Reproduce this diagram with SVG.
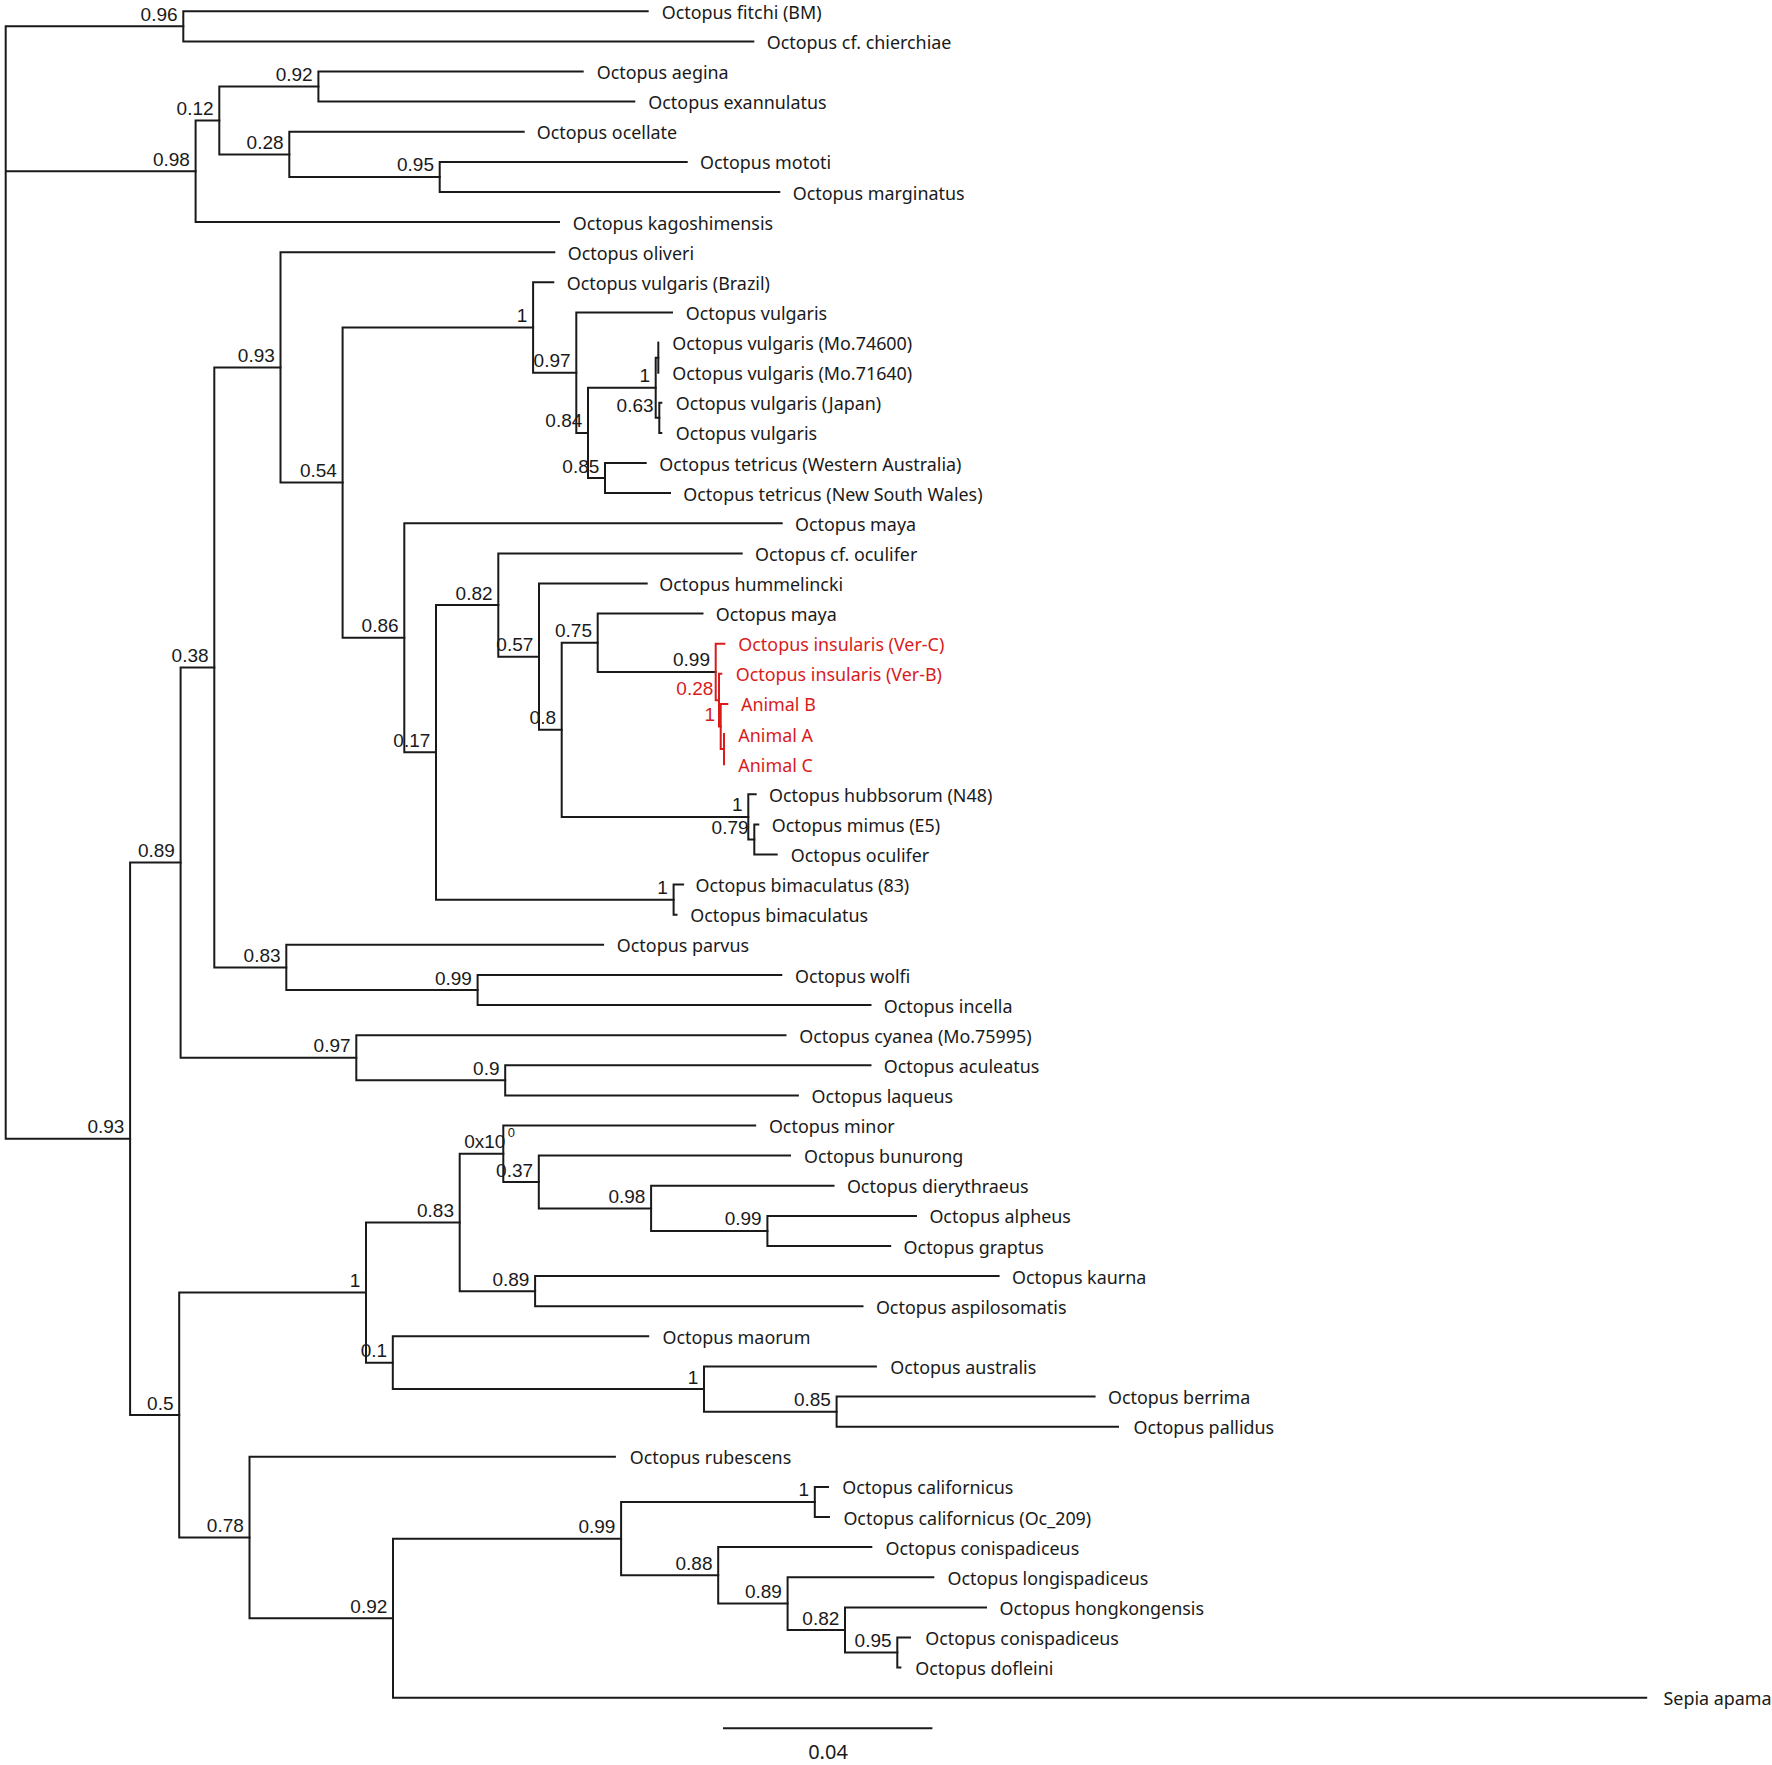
<svg xmlns="http://www.w3.org/2000/svg" width="1772" height="1765" viewBox="0 0 1772 1765">
<style>
.br{fill:none;stroke:#1a1a1a;stroke-width:2;stroke-linejoin:miter;stroke-linecap:square}
.rb{fill:none;stroke:#d81c1c;stroke-width:2;stroke-linejoin:miter;stroke-linecap:square}
.lf{font-family:"Noto Sans","Open Sans",sans-serif;font-size:17.9px;fill:#1a1a1a}
.lr{font-family:"Noto Sans","Open Sans",sans-serif;font-size:17.9px;fill:#d81c1c}
.sp{font-family:"Liberation Sans",Arial,sans-serif;font-size:19px;fill:#1a1a1a;text-anchor:end}
.sr{font-family:"Liberation Sans",Arial,sans-serif;font-size:19px;fill:#d81c1c;text-anchor:end}
.sc{font-family:"Noto Sans","Open Sans",sans-serif;font-size:20px;fill:#1a1a1a;text-anchor:middle}
</style>
<rect width="1772" height="1765" fill="#ffffff"/>
<g id="connectors">
<path class="br" d="M183.3 26.35 H5.7 V1138.8 H130.1 M5.7 171.3 H195.6"/>
<path class="br" d="M647.7 11.3 H183.3 V41.4 H753.3"/>
<path class="br" d="M219.3 120.5 H195.6 V222.1 H559"/>
<path class="br" d="M318.4 86.55 H219.3 V154.4 H289.3"/>
<path class="br" d="M582.7 71.5 H318.4 V101.6 H634.3"/>
<path class="br" d="M523.7 131.8 H289.3 V176.95 H439.7"/>
<path class="br" d="M686.7 161.9 H439.7 V192 H779.3"/>
<path class="br" d="M554.3 252.2 H280.5 V482.6 H342.6"/>
<path class="br" d="M533.1 327.5 H342.6 V637.75 H404.3"/>
<path class="br" d="M553.3 282.3 H533.1 V372.65 H576.3"/>
<path class="br" d="M672 312.4 H576.3 V432.9 H588"/>
<path class="br" d="M655.7 387.75 H588 V478.05 H605"/>
<path class="br" d="M658.3 357.65 H655.7 V417.85 H659.3"/>
<path class="br" d="M658.3 342.6 V372.7"/>
<path class="br" d="M661.3 402.8 H659.3 V432.9 H661.3"/>
<path class="br" d="M645.7 463 H605 V493.1 H670"/>
<path class="br" d="M781.7 523.2 H404.3 V752.3 H436"/>
<path class="br" d="M498.3 605 H436 V899.65 H673.6"/>
<path class="br" d="M741.7 553.4 H498.3 V656.65 H539"/>
<path class="br" d="M646.7 583.5 H539 V729.8 H561.7"/>
<path class="br" d="M597.7 642.75 H561.7 V816.9 H748.3"/>
<path class="br" d="M702.5 613.6 H597.7 V671.9 H715.7"/>
<path class="rb" d="M724.3 643.7 H715.7 V700.15 H719"/>
<path class="rb" d="M721.3 673.8 H719 V726.5 H720.7"/>
<path class="rb" d="M727.3 703.9 H720.7 V749.1 H724"/>
<path class="rb" d="M724 734 V764.2"/>
<path class="br" d="M755.7 794.3 H748.3 V839.45 H754.3"/>
<path class="br" d="M758.3 824.4 H754.3 V854.5 H776.7"/>
<path class="br" d="M683.1 884.6 H673.6 V914.7 H676.5"/>
<path class="br" d="M280.5 367.4 H214.3 V967.4 H286.3"/>
<path class="br" d="M603.1 944.8 H286.3 V990.05 H477.6"/>
<path class="br" d="M781.3 975 H477.6 V1005.1 H870.5"/>
<path class="br" d="M214.3 667.4 H180.6 V1057.8 H356.3"/>
<path class="br" d="M785.5 1035.2 H356.3 V1080.35 H505.2"/>
<path class="br" d="M870.5 1065.3 H505.2 V1095.4 H797.9"/>
<path class="br" d="M180.6 862.6 H130.1 V1415 H179.2"/>
<path class="br" d="M366 1292.55 H179.2 V1537.5 H249.5"/>
<path class="br" d="M459.7 1222.45 H366 V1362.65 H392.8"/>
<path class="br" d="M503.3 1153.75 H459.7 V1291.15 H535.1"/>
<path class="br" d="M755.2 1125.5 H503.3 V1182 H538.8"/>
<path class="br" d="M790 1155.6 H538.8 V1208.4 H651.1"/>
<path class="br" d="M833.5 1185.8 H651.1 V1230.95 H767.4"/>
<path class="br" d="M916 1215.9 H767.4 V1246 H890.2"/>
<path class="br" d="M998.6 1276.1 H535.1 V1306.2 H862.5"/>
<path class="br" d="M648.2 1336.3 H392.8 V1389 H704"/>
<path class="br" d="M875.9 1366.4 H704 V1411.65 H836.6"/>
<path class="br" d="M1094.6 1396.6 H836.6 V1426.7 H1118"/>
<path class="br" d="M614.9 1456.8 H249.5 V1618.2 H393"/>
<path class="br" d="M621.1 1538.65 H393 V1697.7 H1646.2"/>
<path class="br" d="M814.8 1501.95 H621.1 V1575.35 H718.2"/>
<path class="br" d="M828 1486.9 H814.8 V1517 H829"/>
<path class="br" d="M871.3 1547.1 H718.2 V1603.6 H787.6"/>
<path class="br" d="M933.3 1577.2 H787.6 V1630 H845"/>
<path class="br" d="M986 1607.4 H845 V1652.55 H897.3"/>
<path class="br" d="M910 1637.5 H897.3 V1667.6 H900.4"/>
</g>
<g id="scale-bar">
<path class="br" d="M724 1728.3 H931.4"/>
<text class="sc" x="828" y="1758.5">0.04</text>
</g>
<g id="leaves">
<g id="leaf-0"><text class="lf" x="661.7" y="18.8">Octopus fitchi (BM)</text></g>
<g id="leaf-1"><text class="lf" x="766.7" y="48.9">Octopus cf. chierchiae</text></g>
<g id="leaf-2"><text class="lf" x="596.7" y="79">Octopus aegina</text></g>
<g id="leaf-3"><text class="lf" x="648.3" y="109.1">Octopus exannulatus</text></g>
<g id="leaf-4"><text class="lf" x="536.7" y="139.3">Octopus ocellate</text></g>
<g id="leaf-5"><text class="lf" x="700" y="169.4">Octopus mototi</text></g>
<g id="leaf-6"><text class="lf" x="792.7" y="199.5">Octopus marginatus</text></g>
<g id="leaf-7"><text class="lf" x="572.7" y="229.6">Octopus kagoshimensis</text></g>
<g id="leaf-8"><text class="lf" x="567.7" y="259.7">Octopus oliveri</text></g>
<g id="leaf-9"><text class="lf" x="566.7" y="289.8">Octopus vulgaris (Brazil)</text></g>
<g id="leaf-10"><text class="lf" x="685.7" y="319.9">Octopus vulgaris</text></g>
<g id="leaf-11"><text class="lf" x="672.3" y="350.1">Octopus vulgaris (Mo.74600)</text></g>
<g id="leaf-12"><text class="lf" x="672.3" y="380.2">Octopus vulgaris (Mo.71640)</text></g>
<g id="leaf-13"><text class="lf" x="675.7" y="410.3">Octopus vulgaris (Japan)</text></g>
<g id="leaf-14"><text class="lf" x="675.7" y="440.4">Octopus vulgaris</text></g>
<g id="leaf-15"><text class="lf" x="659.3" y="470.5">Octopus tetricus (Western Australia)</text></g>
<g id="leaf-16"><text class="lf" x="683.3" y="500.6">Octopus tetricus (New South Wales)</text></g>
<g id="leaf-17"><text class="lf" x="795" y="530.7">Octopus maya</text></g>
<g id="leaf-18"><text class="lf" x="755" y="560.9">Octopus cf. oculifer</text></g>
<g id="leaf-19"><text class="lf" x="659.3" y="591">Octopus hummelincki</text></g>
<g id="leaf-20"><text class="lf" x="715.7" y="621.1">Octopus maya</text></g>
<g id="leaf-21"><text class="lr" x="738.3" y="651.2">Octopus insularis (Ver-C)</text></g>
<g id="leaf-22"><text class="lr" x="735.7" y="681.3">Octopus insularis (Ver-B)</text></g>
<g id="leaf-23"><text class="lr" x="741" y="711.4">Animal B</text></g>
<g id="leaf-24"><text class="lr" x="738.3" y="741.5">Animal A</text></g>
<g id="leaf-25"><text class="lr" x="738.3" y="771.7">Animal C</text></g>
<g id="leaf-26"><text class="lf" x="769" y="801.8">Octopus hubbsorum (N48)</text></g>
<g id="leaf-27"><text class="lf" x="771.7" y="831.9">Octopus mimus (E5)</text></g>
<g id="leaf-28"><text class="lf" x="790.7" y="862">Octopus oculifer</text></g>
<g id="leaf-29"><text class="lf" x="695.5" y="892.1">Octopus bimaculatus (83)</text></g>
<g id="leaf-30"><text class="lf" x="690.2" y="922.2">Octopus bimaculatus</text></g>
<g id="leaf-31"><text class="lf" x="616.8" y="952.3">Octopus parvus</text></g>
<g id="leaf-32"><text class="lf" x="795" y="982.5">Octopus wolfi</text></g>
<g id="leaf-33"><text class="lf" x="883.7" y="1012.6">Octopus incella</text></g>
<g id="leaf-34"><text class="lf" x="799.2" y="1042.7">Octopus cyanea (Mo.75995)</text></g>
<g id="leaf-35"><text class="lf" x="883.7" y="1072.8">Octopus aculeatus</text></g>
<g id="leaf-36"><text class="lf" x="811.6" y="1102.9">Octopus laqueus</text></g>
<g id="leaf-37"><text class="lf" x="768.9" y="1133">Octopus minor</text></g>
<g id="leaf-38"><text class="lf" x="804" y="1163.1">Octopus bunurong</text></g>
<g id="leaf-39"><text class="lf" x="846.9" y="1193.3">Octopus dierythraeus</text></g>
<g id="leaf-40"><text class="lf" x="929.4" y="1223.4">Octopus alpheus</text></g>
<g id="leaf-41"><text class="lf" x="903.6" y="1253.5">Octopus graptus</text></g>
<g id="leaf-42"><text class="lf" x="1012" y="1283.6">Octopus kaurna</text></g>
<g id="leaf-43"><text class="lf" x="875.9" y="1313.7">Octopus aspilosomatis</text></g>
<g id="leaf-44"><text class="lf" x="662.5" y="1343.8">Octopus maorum</text></g>
<g id="leaf-45"><text class="lf" x="890.2" y="1373.9">Octopus australis</text></g>
<g id="leaf-46"><text class="lf" x="1108" y="1404.1">Octopus berrima</text></g>
<g id="leaf-47"><text class="lf" x="1133.5" y="1434.2">Octopus pallidus</text></g>
<g id="leaf-48"><text class="lf" x="629.7" y="1464.3">Octopus rubescens</text></g>
<g id="leaf-49"><text class="lf" x="842.2" y="1494.4">Octopus californicus</text></g>
<g id="leaf-50"><text class="lf" x="843.4" y="1524.5">Octopus californicus (Oc_209)</text></g>
<g id="leaf-51"><text class="lf" x="885.5" y="1554.6">Octopus conispadiceus</text></g>
<g id="leaf-52"><text class="lf" x="947.5" y="1584.7">Octopus longispadiceus</text></g>
<g id="leaf-53"><text class="lf" x="999.6" y="1614.9">Octopus hongkongensis</text></g>
<g id="leaf-54"><text class="lf" x="925.2" y="1645">Octopus conispadiceus</text></g>
<g id="leaf-55"><text class="lf" x="915.3" y="1675.1">Octopus dofleini</text></g>
<g id="leaf-56"><text class="lf" x="1663.5" y="1705.2">Sepia apama</text></g>
</g>
<g id="supports">
<g id="n-096"><text class="sp" x="177.6" y="20.85">0.96</text></g>
<g id="n-098"><text class="sp" x="189.9" y="165.8">0.98</text></g>
<g id="n-012"><text class="sp" x="213.6" y="115">0.12</text></g>
<g id="n-092a"><text class="sp" x="312.7" y="81.05">0.92</text></g>
<g id="n-028a"><text class="sp" x="283.6" y="148.9">0.28</text></g>
<g id="n-095a"><text class="sp" x="434" y="171.45">0.95</text></g>
<g id="n-093a"><text class="sp" x="274.8" y="361.9">0.93</text></g>
<g id="n-054"><text class="sp" x="336.9" y="477.1">0.54</text></g>
<g id="n-1a"><text class="sp" x="527.4" y="322">1</text></g>
<g id="n-097a"><text class="sp" x="570.6" y="367.15">0.97</text></g>
<g id="n-084"><text class="sp" x="582.3" y="427.4">0.84</text></g>
<g id="n-1b"><text class="sp" x="650" y="382.25">1</text></g>
<g id="n-063"><text class="sp" x="653.6" y="412.35">0.63</text></g>
<g id="n-085a"><text class="sp" x="599.3" y="472.55">0.85</text></g>
<g id="n-086"><text class="sp" x="398.6" y="632.25">0.86</text></g>
<g id="n-017"><text class="sp" x="430.3" y="746.8">0.17</text></g>
<g id="n-082a"><text class="sp" x="492.6" y="599.5">0.82</text></g>
<g id="n-057"><text class="sp" x="533.3" y="651.15">0.57</text></g>
<g id="n-08"><text class="sp" x="556" y="724.3">0.8</text></g>
<g id="n-075"><text class="sp" x="592" y="637.25">0.75</text></g>
<g id="n-099a"><text class="sp" x="710" y="666.4">0.99</text></g>
<g id="n-028b"><text class="sr" x="713.3" y="694.65">0.28</text></g>
<g id="n-1c"><text class="sr" x="715" y="721">1</text></g>
<g id="n-1d"><text class="sp" x="742.6" y="811.4">1</text></g>
<g id="n-079"><text class="sp" x="748.6" y="833.95">0.79</text></g>
<g id="n-1e"><text class="sp" x="667.9" y="894.15">1</text></g>
<g id="n-038"><text class="sp" x="208.6" y="661.9">0.38</text></g>
<g id="n-083a"><text class="sp" x="280.6" y="961.9">0.83</text></g>
<g id="n-099b"><text class="sp" x="471.9" y="984.55">0.99</text></g>
<g id="n-089a"><text class="sp" x="174.9" y="857.1">0.89</text></g>
<g id="n-097b"><text class="sp" x="350.6" y="1052.3">0.97</text></g>
<g id="n-09"><text class="sp" x="499.5" y="1074.85">0.9</text></g>
<g id="n-093b"><text class="sp" x="124.4" y="1133.3">0.93</text></g>
<g id="n-05"><text class="sp" x="173.5" y="1409.5">0.5</text></g>
<g id="n-1f"><text class="sp" x="360.3" y="1287.05">1</text></g>
<g id="n-083b"><text class="sp" x="454" y="1216.95">0.83</text></g>
<g id="n-0x"><text class="sp" x="505.4" y="1148.3">0x10</text><text class="sp" style="font-size:13px" x="515" y="1137">0</text></g>
<g id="n-037"><text class="sp" x="533.1" y="1176.5">0.37</text></g>
<g id="n-098b"><text class="sp" x="645.4" y="1202.9">0.98</text></g>
<g id="n-099c"><text class="sp" x="761.7" y="1225.45">0.99</text></g>
<g id="n-089b"><text class="sp" x="529.4" y="1285.65">0.89</text></g>
<g id="n-01"><text class="sp" x="387.1" y="1357.15">0.1</text></g>
<g id="n-1g"><text class="sp" x="698.3" y="1383.5">1</text></g>
<g id="n-085b"><text class="sp" x="830.9" y="1406.15">0.85</text></g>
<g id="n-078"><text class="sp" x="243.8" y="1532">0.78</text></g>
<g id="n-092b"><text class="sp" x="387.3" y="1612.7">0.92</text></g>
<g id="n-099d"><text class="sp" x="615.4" y="1533.15">0.99</text></g>
<g id="n-1h"><text class="sp" x="809.1" y="1496.45">1</text></g>
<g id="n-088"><text class="sp" x="712.5" y="1569.85">0.88</text></g>
<g id="n-089c"><text class="sp" x="781.9" y="1598.1">0.89</text></g>
<g id="n-082b"><text class="sp" x="839.3" y="1624.5">0.82</text></g>
<g id="n-095b"><text class="sp" x="891.6" y="1647.05">0.95</text></g>
</g>
</svg>
